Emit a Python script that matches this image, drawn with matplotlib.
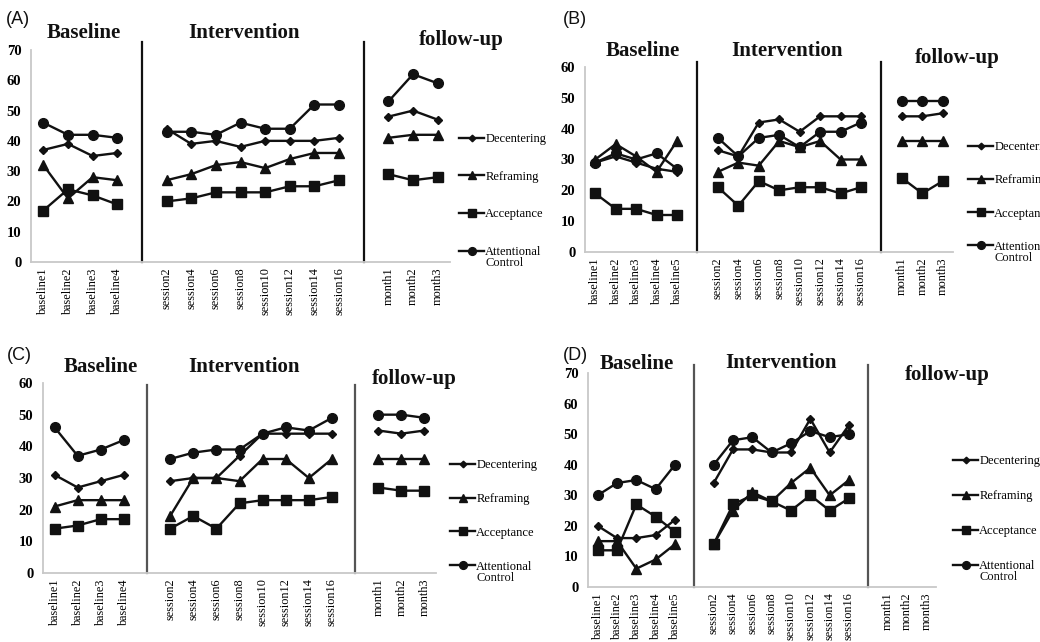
import numpy as np
import matplotlib.pyplot as plt

plt.rcParams['font.family'] = ['Liberation Serif', 'DejaVu Serif']

W, H = 1040, 642
nan = np.nan

# ---------- Data ----------
SERIES = ['Decentering', 'Reframing', 'Acceptance', 'Attentional']
MARKERS = ['D', '^', 's', 'o']
MSIZES = [4.2, 7, 6.5, 7]

BASE4 = ['baseline1', 'baseline2', 'baseline3', 'baseline4']
BASE5 = ['baseline1', 'baseline2', 'baseline3', 'baseline4', 'baseline5']
SESSIONS = ['session2', 'session4', 'session6', 'session8',
            'session10', 'session12', 'session14', 'session16']
MONTHS = ['month1', 'month2', 'month3']
PHASES = ['Baseline', 'Intervention', 'follow-up']

# each series: baseline | intervention | follow-up
A_decentering = [37, 39, 35, 36, 44, 39, 40, 38, 40, 40, 40, 41, 48, 50, 47]
A_reframing = [32, 21, 28, 27, 27, 29, 32, 33, 31, 34, 36, 36, 41, 42, 42]
A_acceptance = [17, 24, 22, 19, 20, 21, 23, 23, 23, 25, 25, 27, 29, 27, 28]
A_attention = [46, 42, 42, 41, 43, 43, 42, 46, 44, 44, 52, 52, 53, 62, 59]

B_decentering = [29, 31, 29, 27, 26, 33, 31, 42, 43, 39, 44, 44, 44, 44, 44, 45]
B_reframing = [30, 35, 31, 26, 36, 26, 29, 28, 36, 34, 36, 30, 30, 36, 36, 36]
B_acceptance = [19, 14, 14, 12, 12, 21, 15, 23, 20, 21, 21, 19, 21, 24, 19, 23]
B_attention = [29, 32, 30, 32, 27, 37, 31, 37, 38, 34, 39, 39, 42, 49, 49, 49]

C_decentering = [31, 27, 29, 31, 29, 30, 30, 37, 44, 44, 44, 44, 45, 44, 45]
C_reframing = [21, 23, 23, 23, 18, 30, 30, 29, 36, 36, 30, 36, 36, 36, 36]
C_acceptance = [14, 15, 17, 17, 14, 18, 14, 22, 23, 23, 23, 24, 27, 26, 26]
C_attention = [46, 37, 39, 42, 36, 38, 39, 39, 44, 46, 45, 49, 50, 50, 49]

D_decentering = [20, 16, 16, 17, 22, 34, 45, 45, 44, 44, 55, 44, 53, nan, nan, nan]
D_reframing = [15, 15, 6, 9, 14, 14, 25, 31, 28, 34, 39, 30, 35, nan, nan, nan]
D_acceptance = [12, 12, 27, 23, 18, 14, 27, 30, 28, 25, 30, 25, 29, nan, nan, nan]
D_attention = [30, 34, 35, 32, 40, 40, 48, 49, 44, 47, 51, 49, 50, nan, nan, nan]

# ---------- Layout (pixels) ----------
panels = [
    dict(letter='(A)', letter_xy=(6, 19), rect=(31, 50, 450, 262), ymax=70,
         phases=[BASE4, SESSIONS, MONTHS],
         values=[A_decentering, A_reframing, A_acceptance, A_attention],
         sep_color='#111111', sep_top=42,
         titles=[(84, 33), (244, 33), (461, 40)],
         legend_xy=(459, 133), legend_gap=2.05),
    dict(letter='(B)', letter_xy=(563, 20), rect=(585, 67, 953, 252), ymax=60,
         phases=[BASE5, SESSIONS, MONTHS],
         values=[B_decentering, B_reframing, B_acceptance, B_attention],
         sep_color='#111111', sep_top=62,
         titles=[(643, 51), (787, 51), (957, 58)],
         legend_xy=(968, 141), legend_gap=1.7),
    dict(letter='(C)', letter_xy=(7, 355), rect=(43, 383, 436, 573), ymax=60,
         phases=[BASE4, SESSIONS, MONTHS],
         values=[C_decentering, C_reframing, C_acceptance, C_attention],
         sep_color='#555555', sep_top=385,
         titles=[(101, 367), (244, 367), (414, 379)],
         legend_xy=(450, 459), legend_gap=1.75),
    dict(letter='(D)', letter_xy=(563, 355), rect=(588, 373, 936, 587), ymax=70,
         phases=[BASE5, SESSIONS, MONTHS],
         values=[D_decentering, D_reframing, D_acceptance, D_attention],
         sep_color='#555555', sep_top=365,
         titles=[(637, 364), (781, 363), (947, 375)],
         legend_xy=(953, 455), legend_gap=1.85),
]

fig = plt.figure(figsize=(W / 100, H / 100), dpi=100)


def fx(px):
    return px / W


def fy(py):
    return 1 - py / H


def draw_panel(p):
    l, t, r, b = p['rect']
    ax = fig.add_axes([fx(l), fy(b), fx(r - l), (b - t) / H])

    labels = []
    gaps = []
    for i, ph in enumerate(p['phases']):
        if i:
            gaps.append(len(labels))
            labels.append('')
        labels += ph

    for vals, mk, ms, name in zip(p['values'], MARKERS, MSIZES, SERIES):
        pos, k = 0, 0
        for j, ph in enumerate(p['phases']):
            xs = np.arange(pos, pos + len(ph))
            ys = vals[k:k + len(ph)]
            ax.plot(xs, ys, marker=mk, ms=ms, color='#111111', lw=1.7,
                    label=name if j == 0 else None)
            pos += len(ph) + 1
            k += len(ph)

    ext = (t - p['sep_top']) / (b - t)
    for g in gaps:
        ax.axvline(g, ymin=0, ymax=1 + ext, color=p['sep_color'], lw=1.6,
                   clip_on=False)

    ax.set_xlim(-0.5, len(labels) - 0.5)
    ax.set_ylim(0, p['ymax'])
    ax.set_yticks(range(0, p['ymax'] + 1, 10))
    ax.set_xticks(range(len(labels)))
    ax.set_xticklabels(labels, rotation=90, fontsize=8.8)
    for lab in ax.get_yticklabels():
        lab.set_fontweight('bold')
        lab.set_fontsize(10.5)
    ax.tick_params(length=0, pad=4)
    ax.tick_params(axis='y', pad=7)
    for side in ['top', 'right']:
        ax.spines[side].set_visible(False)
    for side in ['left', 'bottom']:
        ax.spines[side].set_color('#c8c8c8')
        ax.spines[side].set_linewidth(1.3)

    for name, (x, y) in zip(PHASES, p['titles']):
        fig.text(fx(x), fy(y), name, ha='center', va='center',
                 fontsize=15, fontweight='bold', color='#111111')
    lx, ly = p['letter_xy']
    fig.text(fx(lx), fy(ly), p['letter'], ha='left', va='center',
             fontsize=13, family='Liberation Sans', color='#111111')

    lgx, lgy = p['legend_xy']
    leg = ax.legend(loc='upper left', bbox_to_anchor=(fx(lgx), fy(lgy)),
                    bbox_transform=fig.transFigure, frameon=False, fontsize=9,
                    handlelength=2.0, handletextpad=0.1,
                    labelspacing=p['legend_gap'], borderpad=0, borderaxespad=0)
    for h in leg.legend_handles:
        h.set_markersize(h.get_markersize() * 0.8)
    return leg


legends = [draw_panel(p) for p in panels]

# second line of the last legend entry sits under its first line
fig.canvas.draw()
for leg in legends:
    bb = leg.get_texts()[-1].get_window_extent()
    fig.text(bb.x0 / W, (bb.y0 + 1) / H, 'Control', ha='left', va='top',
             fontsize=9, color='#111111')

fig.savefig('out.png', dpi=100, facecolor='white')
